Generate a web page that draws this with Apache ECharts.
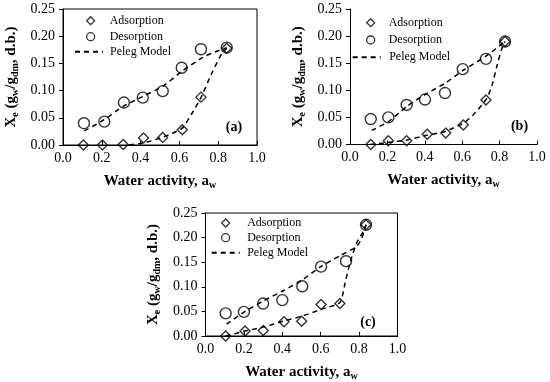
<!DOCTYPE html>
<html><head><meta charset="utf-8">
<script src="https://cdn.jsdelivr.net/npm/echarts@6/dist/echarts.min.js"></script>
<style>html,body{margin:0;padding:0;background:#fff}#c{width:550px;height:382px}</style>
</head><body><div id="c"></div>
<script>
// ---- tick labels & texts ----
const xTickLabels = ['0.0', '0.2', '0.4', '0.6', '0.8', '1.0'];
const yTickLabels = ['0.00', '0.05', '0.10', '0.15', '0.20', '0.25'];
const panelLabels = ['(a)', '(b)', '(c)'];
const seriesNames = ['Adsorption', 'Desorption', 'Peleg Model'];

// ---- panel (a) ----
const aAdsX = [0.105, 0.203, 0.310, 0.415, 0.514, 0.615, 0.711, 0.844];
const aAdsY = [0.000, 0.000, 0.001, 0.013, 0.014, 0.028, 0.088, 0.178];
const aDesX = [0.108, 0.213, 0.314, 0.411, 0.514, 0.612, 0.711, 0.844];
const aDesY = [0.040, 0.043, 0.078, 0.087, 0.099, 0.142, 0.176, 0.179];
const aPelAdsX = [0.340, 0.400, 0.450, 0.510, 0.560, 0.615, 0.663, 0.711, 0.767, 0.818, 0.844];
const aPelAdsY = [0.000, 0.003, 0.007, 0.014, 0.021, 0.031, 0.057, 0.087, 0.132, 0.168, 0.178];
const aPelDesX = [0.110, 0.210, 0.310, 0.410, 0.515, 0.615, 0.720, 0.784, 0.844];
const aPelDesY = [0.026, 0.046, 0.071, 0.089, 0.108, 0.136, 0.161, 0.171, 0.179];

// ---- panel (b) ----
const bAdsX = [0.111, 0.205, 0.303, 0.413, 0.512, 0.606, 0.727, 0.829];
const bAdsY = [0.000, 0.007, 0.007, 0.019, 0.021, 0.036, 0.082, 0.190];
const bDesX = [0.111, 0.205, 0.303, 0.401, 0.508, 0.603, 0.727, 0.829];
const bDesY = [0.047, 0.050, 0.073, 0.083, 0.095, 0.139, 0.158, 0.190];
const bPelAdsX = [0.107, 0.210, 0.300, 0.410, 0.500, 0.550, 0.610, 0.660, 0.730, 0.760, 0.785, 0.810, 0.829];
const bPelAdsY = [0.000, 0.004, 0.008, 0.017, 0.023, 0.030, 0.040, 0.055, 0.084, 0.110, 0.144, 0.175, 0.190];
const bPelDesX = [0.116, 0.205, 0.303, 0.401, 0.508, 0.606, 0.727, 0.829];
const bPelDesY = [0.026, 0.042, 0.070, 0.092, 0.113, 0.137, 0.163, 0.190];

// ---- panel (c) ----
const cAdsX = [0.105, 0.206, 0.301, 0.409, 0.501, 0.602, 0.700, 0.836];
const cAdsY = [0.000, 0.010, 0.011, 0.029, 0.030, 0.064, 0.066, 0.226];
const cDesX = [0.105, 0.200, 0.300, 0.400, 0.504, 0.602, 0.732, 0.836];
const cDesY = [0.046, 0.049, 0.066, 0.073, 0.101, 0.141, 0.152, 0.226];
const cPelAdsX = [0.105, 0.206, 0.300, 0.405, 0.500, 0.600, 0.700, 0.727, 0.753, 0.787, 0.822, 0.836];
const cPelAdsY = [0.000, 0.010, 0.018, 0.030, 0.040, 0.054, 0.068, 0.108, 0.149, 0.189, 0.213, 0.226];
const cPelDesX = [0.110, 0.206, 0.300, 0.405, 0.500, 0.600, 0.700, 0.787, 0.813, 0.836];
const cPelDesY = [0.024, 0.050, 0.071, 0.092, 0.113, 0.141, 0.163, 0.182, 0.198, 0.226];

const panels = [
  {ads:[aAdsX,aAdsY], des:[aDesX,aDesY], pa:[aPelAdsX,aPelAdsY], pd:[aPelDesX,aPelDesY]},
  {ads:[bAdsX,bAdsY], des:[bDesX,bDesY], pa:[bPelAdsX,bPelAdsY], pd:[bPelDesX,bPelDesY]},
  {ads:[cAdsX,cAdsY], des:[cDesX,cDesY], pa:[cPelAdsX,cPelAdsY], pd:[cPelDesX,cPelDesY]}
];
const zip = (xs, ys) => xs.map((x, i) => [x, ys[i]]);

const FONT = 'Liberation Serif';
const gridsLayout = [
  {left: 63, top: 9, width: 194, height: 136, frame: true},
  {left: 350, top: 9, width: 187, height: 135.5, frame: false},
  {left: 205.5, top: 213, width: 192, height: 123.5, frame: true}
];
const nameRich = {
  b: {fontFamily: FONT, fontWeight: 'bold', fontSize: 15, color: '#000'},
  s: {fontFamily: FONT, fontWeight: 'bold', fontSize: 10, color: '#000', padding: [8, 0, 0, 0]}
};

const grid = [], xAxis = [], yAxis = [], series = [];
gridsLayout.forEach((g, i) => {
  grid.push({left: g.left, top: g.top, width: g.width, height: g.height, show: g.frame,
    borderColor: '#000', borderWidth: 1, backgroundColor: 'transparent', containLabel: false});
  xAxis.push({gridIndex: i, type: 'value', min: 0, max: 1, interval: 0.2,
    axisLine: {show: true, onZero: false, lineStyle: {color: '#000', width: 1}},
    axisTick: {show: true, inside: true, length: 4, lineStyle: {color: '#000'}},
    splitLine: {show: false},
    axisLabel: {fontFamily: FONT, fontSize: 14, color: '#000', margin: 6,
      formatter: v => xTickLabels[Math.round(v / 0.2)]},
    name: '{b|Water activity, a}{s|w}', nameLocation: 'middle', nameGap: 27,
    nameTextStyle: {rich: nameRich}
  });
  yAxis.push({gridIndex: i, type: 'value', min: 0, max: 0.25, interval: 0.05,
    axisLine: {show: true, onZero: false, lineStyle: {color: '#000', width: 1}},
    axisTick: {show: true, inside: false, length: 4, lineStyle: {color: '#000'}},
    splitLine: {show: false},
    axisLabel: {fontFamily: FONT, fontSize: 14, color: '#000', margin: 8,
      formatter: v => yTickLabels[Math.round(v / 0.05)]},
    name: '{b|X}{s|e}{b| (g}{s|w}{b|/g}{s|dm}{b|, d.b.)}', nameLocation: 'middle', nameGap: 43,
    nameRotate: 90, nameTextStyle: {rich: nameRich}
  });
  const p = panels[i];
  const mk = {color: 'rgba(0,0,0,0)', borderColor: '#000', borderWidth: 1.4};
  series.push({type: 'scatter', name: seriesNames[0], xAxisIndex: i, yAxisIndex: i,
    symbol: 'diamond', symbolSize: 10, itemStyle: mk, data: zip(p.ads[0], p.ads[1]), z: 2});
  series.push({type: 'scatter', name: seriesNames[1], xAxisIndex: i, yAxisIndex: i,
    symbol: 'circle', symbolSize: 11, itemStyle: mk, data: zip(p.des[0], p.des[1]), z: 2});
  const ls = {color: '#000', width: 1.5, type: [5, 4]};
  series.push({type: 'line', name: seriesNames[2], xAxisIndex: i, yAxisIndex: i,
    symbol: 'none', smooth: 0.2, lineStyle: ls, data: zip(p.pa[0], p.pa[1]), z: 3});
  series.push({type: 'line', name: seriesNames[2], xAxisIndex: i, yAxisIndex: i,
    symbol: 'none', smooth: 0.2, lineStyle: ls, data: zip(p.pd[0], p.pd[1]), z: 3});
});

const legTxt = pad => ({fontFamily: FONT, fontSize: 12, color: '#000', padding: [0, 0, 0, pad]});
const legMk = {color: 'rgba(0,0,0,0)', borderColor: '#000', borderWidth: 1.3};
const legHide = {color: 'rgba(0,0,0,0)', borderColor: 'rgba(0,0,0,0)', borderWidth: 0};
const legendPos = [
  {sl: 86, st: 14.7, sg: 4, pad: 10, pl: 74, pt: 45.7, ppad: 2},
  {sl: 366, st: 16.7, sg: 5.3, pad: 9, pl: 351.7, pt: 51.3, ppad: 3.5},
  {sl: 221, st: 217, sg: 2.7, pad: 12.5, pl: 210.7, pt: 246.7, ppad: 2.5}
];
const legend = [];
legendPos.forEach(l => {
  legend.push({orient: 'vertical', left: l.sl, top: l.st, itemWidth: 8, itemHeight: 8,
    itemGap: l.sg, padding: 0, selectedMode: false, textStyle: legTxt(l.pad), itemStyle: legMk,
    data: [seriesNames[0], seriesNames[1]]});
  legend.push({orient: 'vertical', left: l.pl, top: l.pt, itemWidth: 28, itemHeight: 8,
    itemGap: 0, padding: 0, selectedMode: false, textStyle: legTxt(l.ppad), itemStyle: legHide,
    data: [seriesNames[2]]});
});

const labelPos = [[234, 127.5], [519.5, 126.7], [368, 322]];
const graphic = panelLabels.map((t, i) => ({type: 'text', x: labelPos[i][0], y: labelPos[i][1],
  style: {text: t, fontFamily: FONT, fontWeight: 'bold', fontSize: 14, fill: '#000',
    textAlign: 'center', textVerticalAlign: 'middle'}}));

const chart = echarts.init(document.getElementById('c'), null, {renderer: 'canvas'});
chart.setOption({animation: false, backgroundColor: '#fff', textStyle: {fontFamily: FONT},
  grid, xAxis, yAxis, series, legend, graphic});
</script></body></html>
